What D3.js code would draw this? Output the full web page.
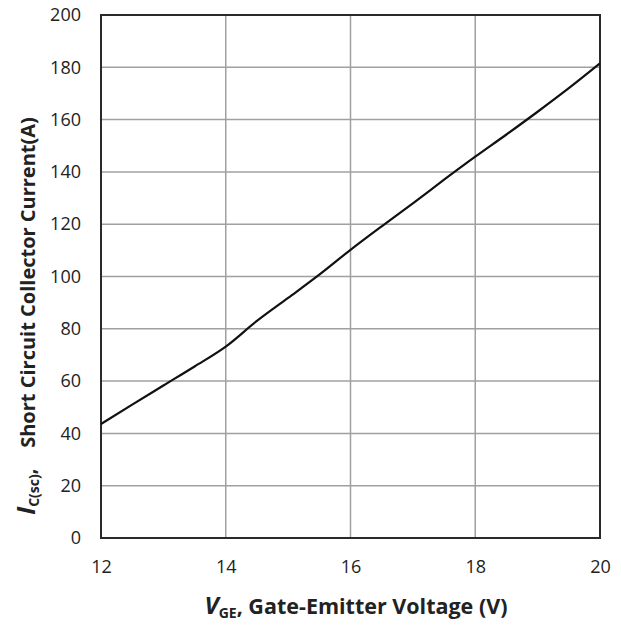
<!DOCTYPE html>
<html>
<head>
<meta charset="utf-8">
<script src="https://cdn.jsdelivr.net/npm/d3@7"></script>
<style>
  html, body { margin: 0; padding: 0; background: #fff; }
  svg text { font-family: "Open Sans", "Liberation Sans", sans-serif; fill: #222; }
</style>
</head>
<body>
<svg id="chart" width="621" height="628"></svg>
<script>
// Gate-emitter voltage (V) and short-circuit collector current (A)
const vge = [12, 12.5, 13, 13.5, 14, 14.5, 15, 15.5, 16, 16.5, 17, 17.5, 18, 18.5, 19, 19.5, 20];
const icsc = [43.6, 51, 58.3, 65.6, 73.2, 83, 91.8, 100.7, 110.2, 119.2, 128, 137, 145.8, 154.3, 163, 172, 181.5];

const xTicks = [12, 14, 16, 18, 20];
const yTicks = [0, 20, 40, 60, 80, 100, 120, 140, 160, 180, 200];

const svg = d3.select("#chart");
const plotL = 101, plotR = 600, plotT = 15, plotB = 538;

const x = d3.scaleLinear().domain([12, 20]).range([plotL, plotR]);
const y = d3.scaleLinear().domain([0, 200]).range([plotB, plotT]);

// grid
const grid = svg.append("g");
grid.selectAll(".gx").data(xTicks).join("line")
  .attr("x1", d => x(d)).attr("x2", d => x(d))
  .attr("y1", plotT).attr("y2", plotB)
  .attr("stroke", "#a0a0a0").attr("stroke-width", 1.5);
grid.selectAll(".gy").data(yTicks).join("line")
  .attr("x1", plotL).attr("x2", plotR)
  .attr("y1", d => y(d)).attr("y2", d => y(d))
  .attr("stroke", "#a0a0a0").attr("stroke-width", 1.5);

// axes (labels only, the frame is drawn separately)
const xAxis = svg.append("g").attr("transform", `translate(0,${plotB})`)
  .call(d3.axisBottom(x).tickValues(xTicks).tickSize(0).tickPadding(22));
const yAxis = svg.append("g").attr("transform", `translate(${plotL},0)`)
  .call(d3.axisLeft(y).tickValues(yTicks).tickSize(0).tickPadding(20));
[xAxis, yAxis].forEach(a => {
  a.select(".domain").remove();
  a.selectAll("text").attr("font-size", 18).attr("fill", "#333")
    .attr("font-family", "'Open Sans', sans-serif");
});

// frame
svg.append("rect")
  .attr("x", plotL).attr("y", plotT)
  .attr("width", plotR - plotL).attr("height", plotB - plotT)
  .attr("fill", "none").attr("stroke", "#2a2a2a").attr("stroke-width", 2);

// curve
const line = d3.line().x((d, i) => x(vge[i])).y(d => y(d)).curve(d3.curveMonotoneX);
svg.append("path").datum(icsc)
  .attr("d", line)
  .attr("fill", "none").attr("stroke", "#111").attr("stroke-width", 2.2);

// x-axis title
const xt = svg.append("text")
  .attr("x", 356).attr("y", 614)
  .attr("text-anchor", "middle")
  .attr("font-weight", "bold").attr("font-size", 21.5).attr("fill", "#222");
xt.append("tspan").attr("font-style", "italic").attr("font-size", 24).text("V");
xt.append("tspan").attr("font-size", 14).attr("dy", 4).text("GE");
xt.append("tspan").attr("dy", -4).text(", Gate-Emitter Voltage (V)");

// y-axis title
const yt = svg.append("text")
  .attr("transform", `translate(35,316) rotate(-90)`)
  .attr("text-anchor", "middle")
  .attr("font-weight", "bold").attr("font-size", 20).attr("fill", "#222");
yt.append("tspan").attr("font-style", "italic").attr("font-size", 25).text("I");
yt.append("tspan").attr("font-size", 14).attr("dy", 4).text("C(sc)");
yt.append("tspan").attr("dy", -4).text(",\u00a0\u00a0\u00a0\u00a0Short Circuit Collector Current(A)");
</script>
</body>
</html>
